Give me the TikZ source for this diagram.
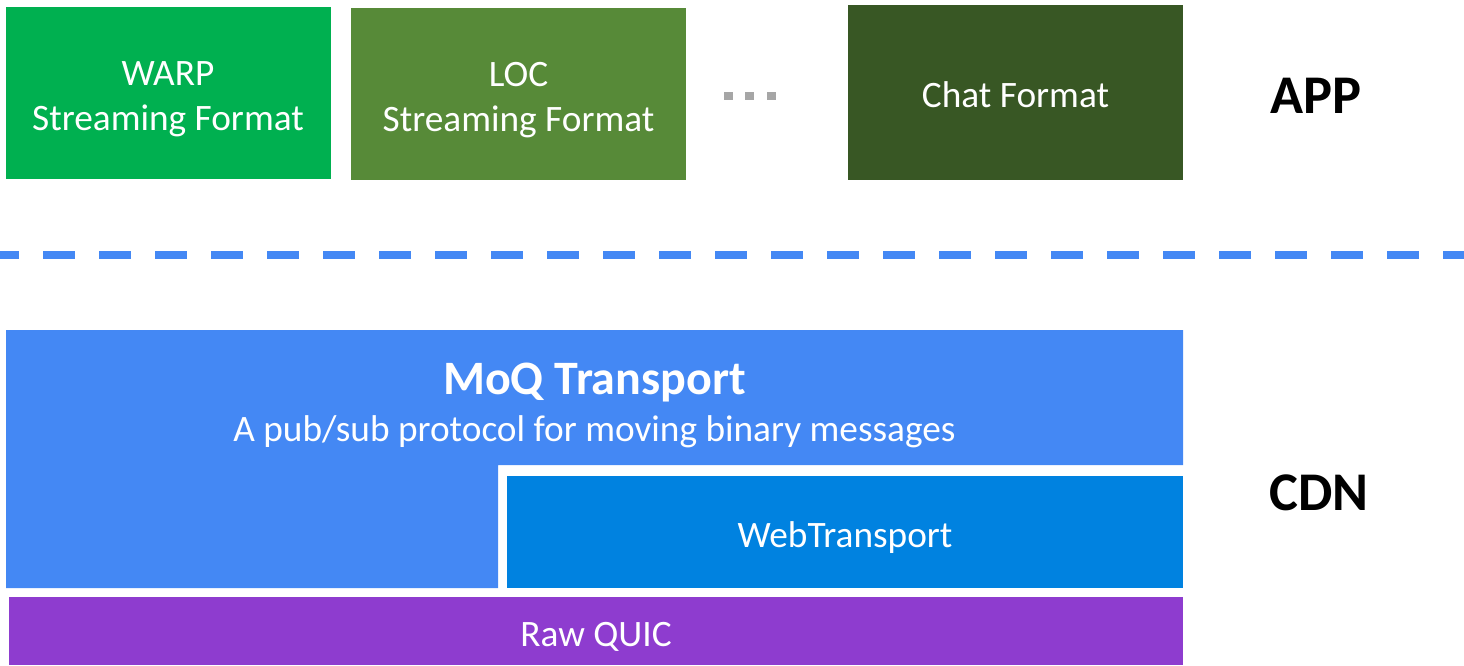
\documentclass[tikz,border=0pt]{standalone}
\usepackage{fontspec}
\setmainfont{Carlito}
\definecolor{warpgreen}{HTML}{00B050}
\definecolor{locgreen}{HTML}{578A38}
\definecolor{chatgreen}{HTML}{385724}
\definecolor{moqblue}{HTML}{4488F4}
\definecolor{wtblue}{HTML}{0082E0}
\definecolor{quicpurple}{HTML}{8E3CCF}
\definecolor{dotgray}{HTML}{A6A6A6}
\tikzset{
  lbl/.style={text=white, font=\fontsize{37.3}{44}\selectfont, inner sep=0pt, anchor=base},
  title/.style={text=white, font=\fontsize{48}{57}\selectfont\bfseries, inner sep=0pt, anchor=base},
  layer/.style={text=black, font=\fontsize{54.5}{64}\selectfont\bfseries, inner sep=0pt, anchor=base},
  dotsq/.style={fill=dotgray}
}
\begin{document}
\begin{tikzpicture}[x=1pt,y=-1pt]
\useasboundingbox (0,0) rectangle (1464,665);
% top boxes
\fill[warpgreen] (6,7) rectangle (331,179);
\fill[locgreen] (351,8) rectangle (686,180);
\fill[chatgreen] (848,5) rectangle (1183,180);
\node[lbl] (warp1) at (168,85) {WARP};
\node[lbl] (warp2) at (168,130) {Streaming Format};
\node[lbl] (loc1) at (518.5,86) {LOC};
\node[lbl] (loc2) at (518.5,131) {Streaming Format};
\node[lbl] (chat) at (1015.5,107) {Chat Format};
% dots
\fill[dotsq] (724,92) rectangle (733,100);
\fill[dotsq] (745,92) rectangle (754,100);
\fill[dotsq] (767,92) rectangle (776,100);
\node[layer] (app) at (1316,113) {APP};
% dashed separator
\coordinate (dl) at (0,255);
\coordinate (dr) at (1464,255);
\draw[moqblue, line width=8pt, dash pattern=on 32pt off 24pt, dash phase=13pt] (dl) -- (dr);
% MoQ L-shape
\fill[moqblue] (6,330) -- (1183,330) -- (1183,465) -- (498,465) -- (498,588) -- (6,588) -- cycle;
\node[title] (moq) at (594.5,394) {MoQ Transport};
\node[lbl] (moqsub) at (594.5,441) {A pub/sub protocol for moving binary messages};
% WebTransport
\fill[wtblue] (507,476) rectangle (1183,588);
\node[lbl] (wt) at (845,547) {WebTransport};
% Raw QUIC
\fill[quicpurple] (9,597) rectangle (1183,665);
\node[lbl] (quic) at (596,646) {Raw QUIC};
\node[layer] (cdn) at (1319,510) {CDN};
\end{tikzpicture}
\end{document}
